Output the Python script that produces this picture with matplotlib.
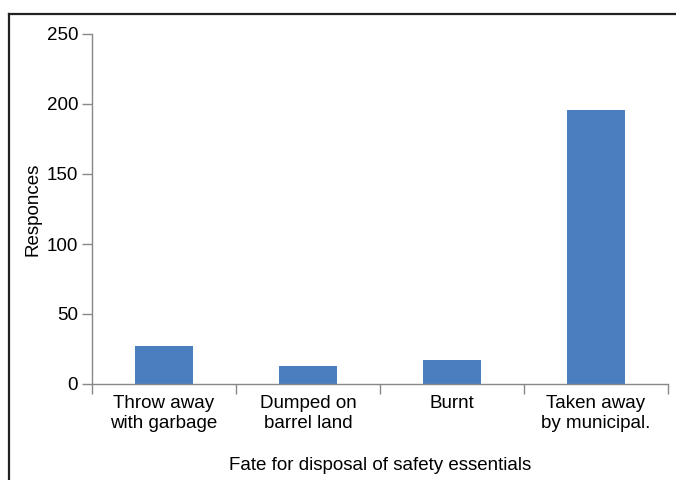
import numpy as np
import matplotlib.pyplot as plt
from matplotlib.lines import Line2D

categories = ["Throw away\nwith garbage", "Dumped on\nbarrel land", "Burnt", "Taken away\nby municipal."]
responses = [27, 13, 17, 196]
y_ticks = [0, 50, 100, 150, 200, 250]

plt.rcParams['font.family'] = ['Liberation Sans', 'DejaVu Sans']
fs = 13.5

fig = plt.figure(figsize=(6.76, 4.8), dpi=100)
ax = fig.add_axes([92 / 676, 1 - 384 / 480, 576 / 676, 350 / 480])

x = np.arange(len(categories))
ax.bar(x, responses, width=0.4, color='#4a7ebf')

ax.set_xlim(-0.5, len(categories) - 0.5)
ax.set_ylim(0, 250)
ax.set_yticks(y_ticks)
ax.set_xticks(x)
ax.set_xticklabels(categories, fontsize=fs, linespacing=1.25)
ax.set_xticks(np.arange(len(categories) + 1) - 0.5, minor=True)
ax.tick_params(axis='x', which='major', length=0, pad=8)
ax.tick_params(axis='x', which='minor', length=7, color='#888888', width=1, direction='out')
ax.tick_params(axis='y', length=7, color='#888888', width=1, labelsize=fs, pad=3)

for side in ['top', 'right']:
    ax.spines[side].set_visible(False)
for side in ['left', 'bottom']:
    ax.spines[side].set_color('#888888')
    ax.spines[side].set_linewidth(1)

ax.set_ylabel("Responces", fontsize=fs, labelpad=4)
ax.set_xlabel("Fate for disposal of safety essentials", fontsize=fs, labelpad=18)

# outer frame (left and top only)
fig.add_artist(Line2D([9 / 676, 9 / 676], [0, 1 - 14 / 480], transform=fig.transFigure,
                      color='#222222', linewidth=1.6))
fig.add_artist(Line2D([9 / 676, 1], [1 - 14 / 480, 1 - 14 / 480], transform=fig.transFigure,
                      color='#222222', linewidth=1.6))

fig.savefig("out.png", dpi=100)
